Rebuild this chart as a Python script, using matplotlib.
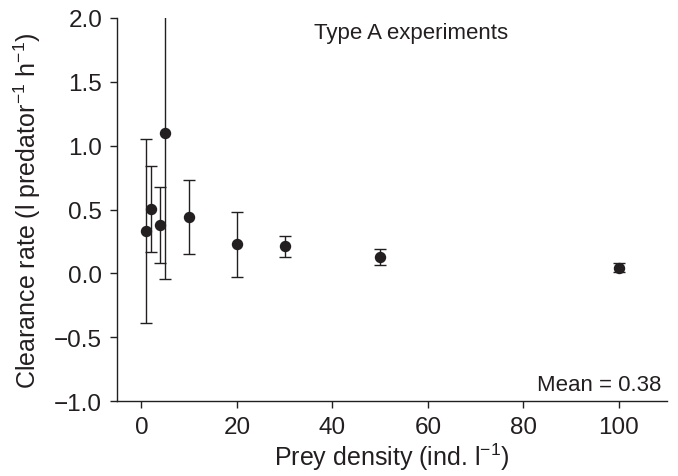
import matplotlib
matplotlib.use("Agg")
import matplotlib.pyplot as plt

plt.rcParams["font.family"] = ["Liberation Sans", "DejaVu Sans"]
plt.rcParams["mathtext.fontset"] = "custom"
plt.rcParams["mathtext.rm"] = "Liberation Sans"
plt.rcParams["mathtext.default"] = "regular"

# Prey density vs clearance rate (mean +/- SD)
prey_density = [1, 2, 4, 5, 10, 20, 30, 50, 100]
clearance = [0.334, 0.504, 0.378, 1.096, 0.441, 0.227, 0.211, 0.128, 0.044]
err_lower = [0.72, 0.334, 0.30, 1.14, 0.286, 0.253, 0.086, 0.065, 0.034]
err_upper = [0.72, 0.334, 0.30, 1.14, 0.29, 0.256, 0.079, 0.06, 0.034]
mean_label = "Mean = 0.38"

ink = "#231f20"

fig = plt.figure(figsize=(6.78, 4.77), dpi=100)
ax = fig.add_axes([0.1733, 0.1572, 0.81, 0.803])

ax.errorbar(prey_density, clearance, yerr=[err_lower, err_upper], fmt="o",
            color=ink, ecolor=ink, markersize=7.2, elinewidth=1.0,
            capsize=4.3, capthick=1.0)

ax.set_xlim(-5, 110)
ax.set_ylim(-1.0, 2.0)
ax.set_xticks([0, 20, 40, 60, 80, 100])
ax.set_yticks([-1.0, -0.5, 0.0, 0.5, 1.0, 1.5, 2.0])
ax.set_yticklabels(["\u22121.0", "\u22120.5", "0.0", "0.5", "1.0", "1.5", "2.0"])

for side in ["top", "right"]:
    ax.spines[side].set_visible(False)
for side in ["left", "bottom"]:
    ax.spines[side].set_color(ink)
    ax.spines[side].set_linewidth(1.0)
ax.tick_params(colors=ink, labelsize=17.5, length=5, width=1.0, pad=6)

ax.set_xlabel("Prey density (ind. l$^{\u22121}$)", fontsize=18, color=ink, labelpad=2)
ax.set_ylabel("Clearance rate (l predator$^{\u22121}$ h$^{\u22121}$)", fontsize=18,
              color=ink, labelpad=8)

ax.text(0.535, 0.962, "Type A experiments", transform=ax.transAxes,
        ha="center", va="center", fontsize=16, color=ink)
ax.text(0.99, 0.044, mean_label, transform=ax.transAxes,
        ha="right", va="center", fontsize=16, color=ink)

fig.savefig("out.png", dpi=100)
